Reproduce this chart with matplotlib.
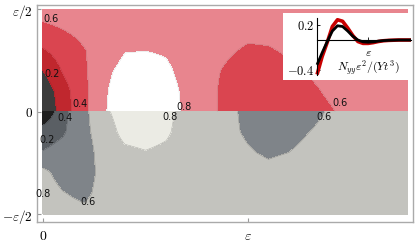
import numpy as np
import matplotlib
matplotlib.use("Agg")
import matplotlib.pyplot as plt

plt.rcParams['mathtext.fontset'] = 'cm'

# field values, on a coarse grid (x in units of eps)
x_nodes = [0.0, 0.1, 0.2, 0.3, 0.4, 0.5, 0.6, 0.7, 0.8, 0.9,
           1.0, 1.1, 1.2, 1.3, 1.4, 1.5, 1.6, 1.7, 1.78]

# upper half, rows y = 0, 0.1, ..., 0.5
y_top = [0.0, 0.1, 0.2, 0.3, 0.4, 0.5]
z_top = [
    [0.00, 0.30, 0.55, 0.78, 0.95, 0.97, 0.88, 0.77, 0.68, 0.52, 0.46, 0.46, 0.48, 0.52, 0.58, 0.66, 0.70, 0.70, 0.70],
    [0.05, 0.32, 0.55, 0.77, 0.93, 0.95, 0.87, 0.76, 0.67, 0.53, 0.47, 0.47, 0.50, 0.56, 0.63, 0.68, 0.70, 0.70, 0.70],
    [0.20, 0.42, 0.57, 0.75, 0.86, 0.88, 0.83, 0.74, 0.66, 0.57, 0.50, 0.50, 0.56, 0.62, 0.67, 0.70, 0.70, 0.70, 0.70],
    [0.38, 0.50, 0.59, 0.68, 0.79, 0.795, 0.78, 0.72, 0.68, 0.63, 0.57, 0.58, 0.63, 0.67, 0.69, 0.70, 0.70, 0.70, 0.70],
    [0.56, 0.60, 0.65, 0.70, 0.70, 0.70, 0.70, 0.70, 0.70, 0.70, 0.66, 0.67, 0.70, 0.70, 0.70, 0.70, 0.70, 0.70, 0.70],
    [0.66, 0.68, 0.70, 0.70, 0.70, 0.70, 0.70, 0.70, 0.70, 0.70, 0.70, 0.70, 0.70, 0.70, 0.70, 0.70, 0.70, 0.70, 0.70],
]

# lower half, rows y = 0, -0.1, ..., -0.5
y_bot = [0.0, -0.1, -0.2, -0.3, -0.4, -0.5]
z_bot = [
    [0.00, 0.35, 0.55, 0.76, 0.90, 0.93, 0.86, 0.72, 0.69, 0.65, 0.55, 0.50, 0.50, 0.54, 0.62, 0.68, 0.70, 0.70, 0.70],
    [0.30, 0.38, 0.55, 0.70, 0.86, 0.88, 0.83, 0.71, 0.69, 0.65, 0.57, 0.52, 0.53, 0.60, 0.66, 0.70, 0.70, 0.70, 0.70],
    [0.41, 0.47, 0.52, 0.68, 0.76, 0.79, 0.76, 0.71, 0.70, 0.68, 0.62, 0.57, 0.60, 0.66, 0.70, 0.70, 0.70, 0.70, 0.70],
    [0.66, 0.50, 0.52, 0.66, 0.70, 0.70, 0.70, 0.70, 0.70, 0.70, 0.70, 0.66, 0.70, 0.70, 0.70, 0.70, 0.70, 0.70, 0.70],
    [0.72, 0.61, 0.55, 0.68, 0.70, 0.70, 0.70, 0.70, 0.70, 0.70, 0.70, 0.70, 0.70, 0.70, 0.70, 0.70, 0.70, 0.70, 0.70],
    [0.72, 0.68, 0.66, 0.70, 0.70, 0.70, 0.70, 0.70, 0.70, 0.70, 0.70, 0.70, 0.70, 0.70, 0.70, 0.70, 0.70, 0.70, 0.70],
]

levels = [-0.01, 0.2, 0.4, 0.6, 0.8, 1.01]
red_colors = ['#3c3c3c', '#c0272e', '#da4550', '#e8858e', '#ffffff']
gray_colors = ['#1e1e1e', '#5a5f64', '#7f8489', '#c3c3be', '#ebebe4']

# inset curves
inset_x = [0.0, 0.1, 0.2, 0.3, 0.4, 0.5, 0.6, 0.7, 0.8, 0.9, 1.0, 1.1, 1.2, 1.3, 1.4, 1.6, 1.84]
inset_red = [-0.46, -0.22, -0.03, 0.18, 0.27, 0.25, 0.16, 0.06, -0.02, -0.045, -0.045, -0.035, -0.02, -0.01, -0.005, 0.0, 0.0]
inset_black = [-0.33, -0.17, -0.02, 0.12, 0.19, 0.18, 0.12, 0.05, 0.0, -0.025, -0.03, -0.025, -0.015, -0.008, -0.004, 0.0, 0.0]

# contour labels (text, x, y)
labels_top = [('0.6', 0.04, 0.45), ('0.2', 0.045, 0.183), ('0.4', 0.18, 0.037),
              ('0.8', 0.69, 0.022), ('0.6', 1.45, 0.041)]
labels_bot = [('0.4', 0.11, -0.032), ('0.8', 0.62, -0.027), ('0.2', 0.02, -0.139),
              ('0.8', 0.0, -0.40), ('0.6', 0.22, -0.44), ('0.6', 1.37, -0.027)]


def refine(xn, yn, z, nx=360, ny=100):
    xn = np.asarray(xn)
    yn = np.asarray(yn)
    z = np.asarray(z)
    order = np.argsort(yn)
    yn = yn[order]
    z = z[order]
    xf = np.linspace(xn[0], xn[-1], nx)
    yf = np.linspace(yn[0], yn[-1], ny)
    zx = np.array([np.interp(xf, xn, row) for row in z])
    zf = np.array([np.interp(yf, yn, col) for col in zx.T]).T
    return xf, yf, zf


fig = plt.figure(figsize=(4.15, 2.45), dpi=100)
ax = fig.add_axes([37 / 415, 1 - 222 / 245, 376 / 415, 217 / 245])

xf, yf, zf = refine(x_nodes, y_top, z_top)
ax.contourf(xf, yf, zf, levels=levels, colors=red_colors)
ax.contour(xf, yf, zf, levels=levels[1:-1], colors='#000000', linewidths=0.4, alpha=0.12)

xf, yf, zf = refine(x_nodes, y_bot, z_bot)
ax.contourf(xf, yf, zf, levels=levels, colors=gray_colors)
ax.contour(xf, yf, zf, levels=levels[1:-1], colors='#000000', linewidths=0.4, alpha=0.25)

for t, x, y in labels_top + labels_bot:
    ax.text(x, y, t, fontsize=7, ha='center', va='center', color='#111111')

ax.set_xlim(-0.029, 1.805)
ax.set_ylim(-0.539, 0.52)
ax.set_xticks([0, 1])
ax.set_xticklabels(['$0$', r'$\varepsilon$'], fontsize=10)
ax.set_yticks([-0.5, 0, 0.5])
ax.set_yticklabels([r'$-\varepsilon/2$', '$0$', r'$\varepsilon/2$'], fontsize=9.5)
ax.tick_params(direction='in', length=3, color='#999999')
ax.tick_params(axis='y', pad=3)
ax.tick_params(axis='x', pad=5)
for s in ax.spines.values():
    s.set_color('#aaaaaa')
    s.set_linewidth(1.0)

# inset
ins = fig.add_axes([283 / 415, 1 - 80 / 245, 128 / 415, 67 / 245])
ins.set_facecolor('white')
ins.plot(inset_x, inset_red, color='#c80000', lw=2.6, solid_capstyle='butt')
ins.plot(inset_x, inset_black, color='black', lw=2.0, solid_capstyle='butt')
ins.set_xlim(-0.667, 1.84)
ins.set_ylim(-0.533, 0.36)
ins.spines['top'].set_visible(False)
ins.spines['right'].set_visible(False)
ins.spines['left'].set_position(('data', 0))
ins.spines['bottom'].set_position(('data', 0))
ins.spines['left'].set_bounds(-0.47, 0.3)
ins.spines['bottom'].set_bounds(0, 1.84)
for s in ('left', 'bottom'):
    ins.spines[s].set_linewidth(0.8)
ins.set_yticks([0.2, -0.4])
ins.set_yticklabels(['$0.2$', '$-0.4$'], fontsize=9)
ins.set_xticks([1])
ins.set_xticklabels([r'$\varepsilon$'], fontsize=8.5)
ins.tick_params(direction='in', length=2.5, width=0.6, pad=2)
ins.tick_params(axis='x', pad=4)
ins.text(1.0, -0.37, r'$N_{yy}\varepsilon^2/(Yt^3)$', fontsize=8.5, ha='center', va='center')

fig.savefig('out.png', dpi=100)
